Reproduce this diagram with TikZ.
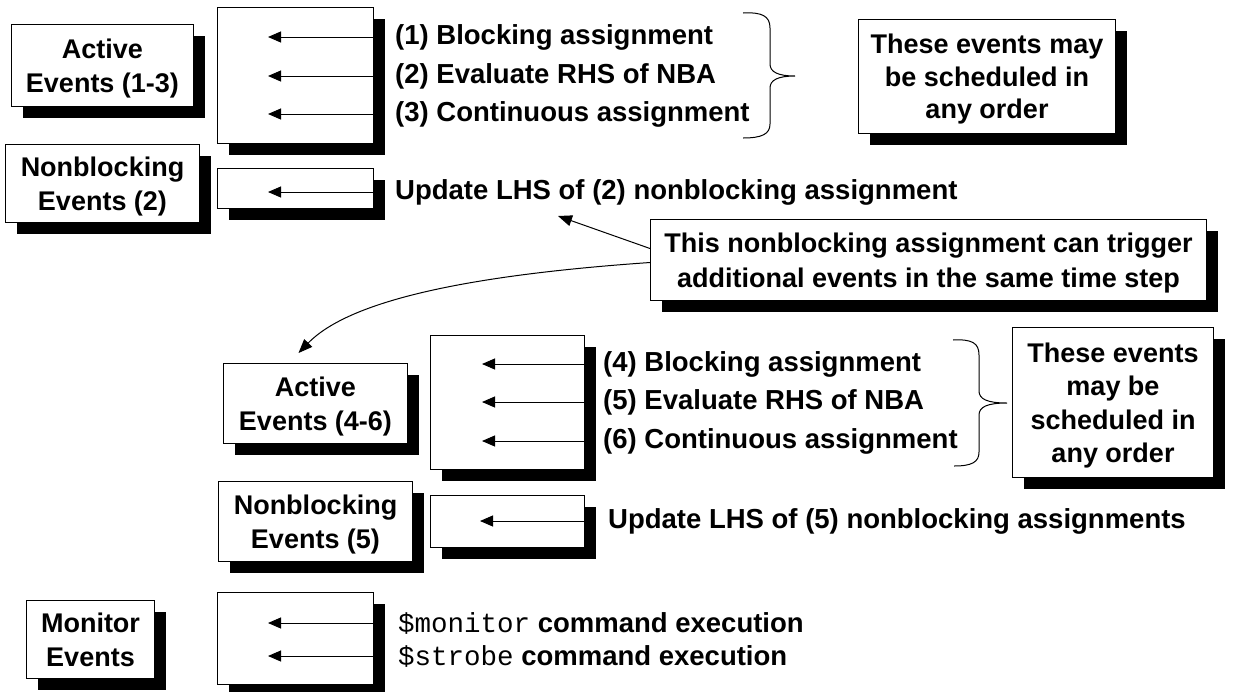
\documentclass[tikz,border=0pt]{standalone}
\usepackage{fontspec}
\setmainfont{Liberation Sans}
\setmonofont{Liberation Mono}
\usetikzlibrary{arrows.meta,shadows}
\newcommand\lbl{\fontsize{27}{34}\selectfont\bfseries}
\newcommand\itm{\fontsize{27.5}{34}\selectfont\bfseries}
\tikzset{
  shadowed/.style={draw=black, line width=1pt, fill=white,
    drop shadow={shadow xshift=11pt,shadow yshift=-11pt,fill=black,opacity=1}},
  labelbox/.style={shadowed, align=center, inner sep=0pt, font=\lbl, anchor=north west, text depth=0pt},
  queuebox/.style={shadowed, inner sep=0pt, anchor=north west},
  itemtext/.style={anchor=west, inner sep=0pt, font=\itm},
  qarrow/.style={line width=1pt, -{Triangle[length=13pt,width=11pt]}},
  notearrow/.style={line width=1pt, -{Triangle[length=14pt,width=11pt]}},
  bracepath/.style={line width=1pt}
}
\begin{document}
\begin{tikzpicture}[x=1pt,y=-1pt]
\useasboundingbox (0,0) rectangle (1238,691);
% ---------- group 1
\node[labelbox, minimum width=182pt, minimum height=82pt] (a1) at (11,24) {Active\\Events (1-3)};
\node[queuebox, minimum width=156pt, minimum height=136pt] (q1) at (217,7) {};
\node[labelbox, minimum width=194pt, minimum height=78pt] (n1) at (5,144) {Nonblocking\\Events (2)};
\node[queuebox, minimum width=156pt, minimum height=40pt] (q2) at (217,168) {};
\node[itemtext] (i1) at (395,37) {(1) Blocking assignment};
\node[itemtext] (i2) at (395,76) {(2) Evaluate RHS of NBA};
\node[itemtext] (i3) at (395,114) {(3) Continuous assignment};
\node[itemtext] (u1) at (395,192) {Update LHS of (2) nonblocking assignment};
\coordinate (r1) at (268,37);
\coordinate (r2) at (268,76);
\coordinate (r3) at (268,114);
\coordinate (r4) at (268,192);
\draw[qarrow] (q1.east |- r1) -- (r1);
\draw[qarrow] (q1.east |- r2) -- (r2);
\draw[qarrow] (q1.east |- r3) -- (r3);
\draw[qarrow] (q2.east |- r4) -- (r4);
\draw[bracepath] (743,13) .. controls (762,12) and (770,16) .. (770,28) -- (770,64)
  .. controls (770,72) and (778,76) .. (795,76)
  .. controls (778,76) and (770,80) .. (770,88) -- (770,124)
  .. controls (770,134) and (762,138) .. (743,138);
\node[labelbox, minimum width=257pt, minimum height=114pt, font=\fontsize{27}{32.5}\selectfont\bfseries] (o1) at (858,19) {These events may\\be scheduled in\\any order};
% ---------- trigger note
\node[labelbox, minimum width=556pt, minimum height=81pt, font=\fontsize{27}{35}\selectfont\bfseries] (trig) at (650,219) {This nonblocking assignment can trigger\\additional events in the same time step};
\coordinate (tip1) at (558,216);
\draw[notearrow] ([yshift=11.5pt]trig.west) -- (tip1);
% ---------- group 2
\node[labelbox, minimum width=184pt, minimum height=80pt] (a2) at (223,363) {Active\\Events (4-6)};
\node[queuebox, minimum width=154pt, minimum height=134pt] (q3) at (430,335) {};
\node[itemtext] (i4) at (603,364) {(4) Blocking assignment};
\node[itemtext] (i5) at (603,402) {(5) Evaluate RHS of NBA};
\node[itemtext] (i6) at (603,441) {(6) Continuous assignment};
\coordinate (r5) at (482,364);
\coordinate (r6) at (482,402);
\coordinate (r7) at (482,441);
\draw[qarrow] (q3.east |- r5) -- (r5);
\draw[qarrow] (q3.east |- r6) -- (r6);
\draw[qarrow] (q3.east |- r7) -- (r7);
\draw[notearrow] ([yshift=-2.5pt]trig.west) .. controls (470,275) and (350,300) .. ([xshift=-17pt,yshift=10pt]a2.north);
\draw[bracepath] (953,340) .. controls (972,339) and (979,343) .. (979,355) -- (979,391)
  .. controls (979,399) and (987,403) .. (1007,403)
  .. controls (987,403) and (979,407) .. (979,415) -- (979,452)
  .. controls (979,462) and (972,466) .. (954,466);
\node[labelbox, minimum width=201pt, minimum height=150pt, font=\fontsize{27}{33.5}\selectfont\bfseries] (o2) at (1012,327) {These events\\may be\\scheduled in\\any order};
\node[labelbox, minimum width=194pt, minimum height=80pt] (n2) at (218,481) {Nonblocking\\Events (5)};
\node[queuebox, minimum width=154pt, minimum height=52pt] (q4) at (430,495) {};
\node[itemtext] (u2) at (608,521) {Update LHS of (5) nonblocking assignments};
\coordinate (r8) at (480,521);
\draw[qarrow] (q4.east |- r8) -- (r8);
% ---------- group 3
\node[labelbox, minimum width=128pt, minimum height=78pt] (m1) at (26,600) {Monitor\\Events};
\node[queuebox, minimum width=156pt, minimum height=92pt] (q5) at (217,592) {};
\node[itemtext] (t1) at (398,623) {{\ttfamily\mdseries \$monitor} command execution};
\node[itemtext] (t2) at (398,656) {{\ttfamily\mdseries \$strobe} command execution};
\coordinate (r9) at (268,623);
\coordinate (r10) at (268,656);
\draw[qarrow] (q5.east |- r9) -- (r9);
\draw[qarrow] (q5.east |- r10) -- (r10);
\end{tikzpicture}
\end{document}
